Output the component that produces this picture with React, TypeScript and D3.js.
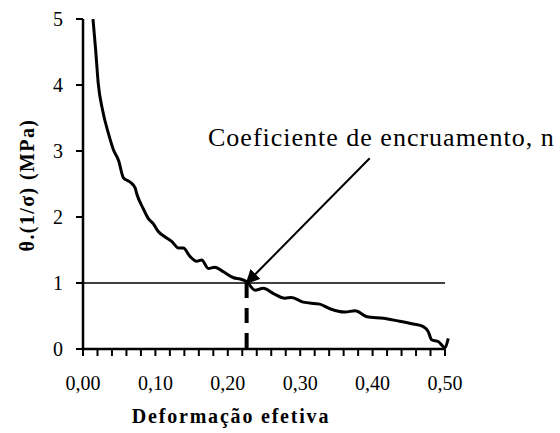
import React from 'react';
import * as d3 from 'd3';

// curva θ.(1/σ) x deformação efetiva
const strain = [
  0.0138, 0.0175, 0.021, 0.027, 0.035, 0.042, 0.049, 0.056, 0.065, 0.072,
  0.074, 0.083, 0.09, 0.097, 0.104, 0.113, 0.1225, 0.132, 0.1385, 0.148,
  0.157, 0.164, 0.173, 0.182, 0.194, 0.208, 0.217, 0.226, 0.2376, 0.249,
  0.263, 0.279, 0.288, 0.304, 0.327, 0.341, 0.362, 0.376, 0.392, 0.415,
  0.433, 0.456, 0.47, 0.477, 0.4815, 0.491, 0.5, 0.5045,
];
const theta = [
  5.0, 4.53, 4.03, 3.62, 3.27, 3.02, 2.86, 2.59, 2.53, 2.44,
  2.36, 2.13, 1.98, 1.9, 1.78, 1.7, 1.63, 1.53, 1.53, 1.4,
  1.33, 1.35, 1.22, 1.24, 1.17, 1.08, 1.06, 1.02, 0.89, 0.92,
  0.84, 0.77, 0.78, 0.71, 0.68, 0.61, 0.56, 0.58, 0.49, 0.465,
  0.43, 0.38, 0.34, 0.26, 0.14, 0.11, 0.02, 0.16,
];

const xTickLabels = ['0,00', '0,10', '0,20', '0,30', '0,40', '0,50'];
const yTickLabels = ['0', '1', '2', '3', '4', '5'];

const nValue = 0.226; // ponto do coeficiente de encruamento
const refLevel = 1;
const arrowFrom = [0.396, 2.89];
const note = 'Coeficiente de encruamento, n';

const W = 560;
const H = 433;
const serif = '"Liberation Serif", "Times New Roman", serif';

export default function App() {
  const x = d3.scaleLinear().domain([0, 0.5]).range([83, 445]);
  const y = d3.scaleLinear().domain([0, 5]).range([349, 19]);

  const pts = strain.map((s, i) => [s, theta[i]] as [number, number]);
  const line = d3
    .line<[number, number]>()
    .x((d) => x(d[0]))
    .y((d) => y(d[1]))
    .curve(d3.curveMonotoneX);

  const minorTicks = d3.range(0, 26).map((i) => i * 0.02);
  const majorTicks = xTickLabels.map((_, i) => i * 0.1);
  const yTicks = yTickLabels.map((_, i) => i);

  return (
    <div style={{ position: 'fixed', left: 0, top: 0, width: W, height: H, background: '#fff' }}>
      <svg width={W} height={H} style={{ display: 'block' }}>
        <defs>
          <clipPath id="plot">
            <rect x={x(0)} y={y(5)} width={x(0.52) - x(0)} height={y(0) - y(5) + 2} />
          </clipPath>
          <marker id="head" viewBox="0 0 10 10" refX="9" refY="5" markerWidth="7" markerHeight="7" orient="auto">
            <path d="M0,0 L10,5 L0,10 z" fill="#000" />
          </marker>
        </defs>

        {/* linha de referência */}
        <line x1={x(0)} x2={x(0.5)} y1={y(refLevel)} y2={y(refLevel)} stroke="#000" strokeWidth={1.5} />

        {/* tracejado vertical */}
        <line
          x1={x(nValue)}
          x2={x(nValue)}
          y1={y(refLevel)}
          y2={y(0)}
          stroke="#000"
          strokeWidth={4}
          strokeDasharray="15,10"
        />

        {/* curva */}
        <path d={line(pts) ?? ''} fill="none" stroke="#000" strokeWidth={3} clipPath="url(#plot)" strokeLinejoin="round" />

        {/* eixos */}
        <line x1={x(0)} x2={x(0)} y1={y(0)} y2={y(5)} stroke="#000" strokeWidth={2.5} />
        <line x1={x(0)} x2={x(0.5)} y1={y(0)} y2={y(0)} stroke="#000" strokeWidth={2.5} />
        {yTicks.map((v) => (
          <g key={`y${v}`}>
            <line x1={x(0) - 7} x2={x(0)} y1={y(v)} y2={y(v)} stroke="#000" strokeWidth={2} />
            <text x={63} y={y(v)} dy="0.35em" textAnchor="end" fontFamily={serif} fontSize={20}>
              {yTickLabels[v]}
            </text>
          </g>
        ))}
        {minorTicks.map((v) => (
          <line key={`t${v}`} x1={x(v)} x2={x(v)} y1={y(0)} y2={y(0) + 7} stroke="#000" strokeWidth={2} />
        ))}
        {majorTicks.map((v, i) => (
          <text key={`x${i}`} x={x(v)} y={390} textAnchor="middle" fontFamily={serif} fontSize={20}>
            {xTickLabels[i]}
          </text>
        ))}

        {/* seta e anotação */}
        <line
          x1={x(arrowFrom[0])}
          y1={y(arrowFrom[1])}
          x2={x(nValue)}
          y2={y(refLevel)}
          stroke="#000"
          strokeWidth={2}
          markerEnd="url(#head)"
        />
        <text x={208} y={146} fontFamily={serif} fontSize={26} letterSpacing={1}>
          {note}
        </text>

        {/* títulos */}
        <text x={231} y={423} textAnchor="middle" fontFamily={serif} fontSize={20} fontWeight="bold" letterSpacing={1.8}>
          Deformação efetiva
        </text>
        <text
          transform="translate(34,185) rotate(-90)"
          textAnchor="middle"
          fontFamily={serif}
          fontSize={20}
          fontWeight="bold"
          letterSpacing={1.4}
        >
          θ.(1/σ) (MPa)
        </text>
      </svg>
    </div>
  );
}
